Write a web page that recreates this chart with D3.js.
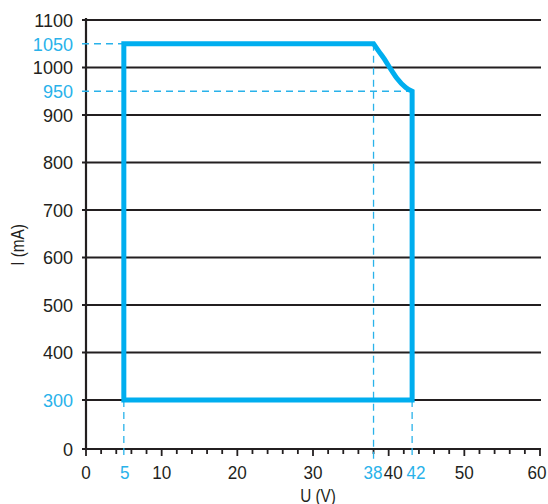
<!DOCTYPE html>
<html>
<head>
<meta charset="utf-8">
<script src="https://cdn.jsdelivr.net/npm/d3@7"></script>
<style>
  html, body { margin: 0; padding: 0; background: #fff; }
  svg { display: block; }
  text { font-family: "Liberation Sans", Arial, sans-serif; }
</style>
</head>
<body>
<svg id="chart" width="548" height="504"></svg>
<script>
// ---- data ----
// operating window: straight part of the outline, U (V), I (mA)
const edgeU = [43.1, 43.1, 5, 5, 38];
const edgeI = [950, 300, 300, 1050, 1050];
// constant-power curve from (38 V, 1050 mA) down to the right edge
const curveU = [38, 38.7, 39.42, 40.13, 41.06, 42.25, 43.1];
const curveI = [1050, 1034, 1018, 1000, 978, 958, 950];

// y axis ticks (mA)
const yGridValues = [300, 400, 500, 600, 700, 800, 900, 1000, 1100];
const yLabelValues = [0, 300, 400, 500, 600, 700, 800, 900, 950, 1000, 1050, 1100];
const yLabelTexts  = ["0", "300", "400", "500", "600", "700", "800", "900", "950", "1000", "1050", "1100"];
const yHighlight   = [false, true, false, false, false, false, false, false, true, false, true, false];

// x axis ticks (V)
const xMinorTicks = d3.range(0, 61, 2);
const xMajorTicks = [0, 10, 20, 30, 40, 50, 60];
const xLabelValues = [0, 5, 10, 20, 30, 38, 40, 43.1, 50, 60];
const xLabelTexts  = ["0", "5", "10", "20", "30", "38", "40", "42", "50", "60"];
const xLabelShift  = [0, 1, 0, 0, 0, -0.5, 4.5, 4, 0, -3];
const xHighlight   = [false, true, false, false, false, true, false, true, false, false];

// reference (dashed) lines
const hRefI   = [1050, 950];
const hRefToU = [5, 43.1];
const vRefU    = [5, 38, 43.1];
const vRefFromI = [300, 1050, 300];

// ---- layout ----
const svg = d3.select("#chart");
const x = d3.scaleLinear().domain([0, 60]).range([86, 540]);
// axis is compressed between 0 and 300 mA
const y = d3.scaleLinear().domain([0, 300, 1100]).range([449, 400, 20]);

const dark = "#231f20";
const blue = "#00aeef";
const lightBlue = "#29b2ea";

// gridlines
svg.append("g").selectAll("line").data(yGridValues).join("line")
  .attr("x1", x(0) - 4).attr("x2", x(60) + 1)
  .attr("y1", d => y(d)).attr("y2", d => y(d))
  .attr("stroke", dark).attr("stroke-width", 1.8);

// axes
svg.append("line").attr("x1", x(0)).attr("x2", x(0)).attr("y1", y(0) + 1).attr("y2", y(1100) - 2)
  .attr("stroke", dark).attr("stroke-width", 2.2);
svg.append("line").attr("x1", x(0) - 4).attr("x2", x(60) + 1).attr("y1", y(0)).attr("y2", y(0))
  .attr("stroke", dark).attr("stroke-width", 2.2);

// x ticks
svg.append("g").selectAll("line").data(xMinorTicks).join("line")
  .attr("x1", d => x(d)).attr("x2", d => x(d))
  .attr("y1", y(0)).attr("y2", d => y(0) + (xMajorTicks.includes(d) ? 7 : 5))
  .attr("stroke", dark).attr("stroke-width", 1.8);

// dashed reference lines
const refG = svg.append("g").attr("stroke", lightBlue).attr("stroke-width", 1.3)
  .attr("stroke-dasharray", "7,5").attr("fill", "none");
hRefI.forEach((v, i) => {
  refG.append("line").attr("x1", x(0) - 4).attr("x2", x(hRefToU[i]))
    .attr("y1", y(v)).attr("y2", y(v));
});
vRefU.forEach((u, i) => {
  refG.append("line").attr("x1", x(u)).attr("x2", x(u))
    .attr("y1", y(vRefFromI[i])).attr("y2", y(0) + 10);
});

// outline: straight edges + smooth curve
const edgePts = edgeU.map((u, i) => [u, edgeI[i]]);
const curvePts = curveU.map((u, i) => [u, curveI[i]]);
const straight = d3.line().x(d => x(d[0])).y(d => y(d[1]))(edgePts);
const curved = d3.line().curve(d3.curveMonotoneX).x(d => x(d[0])).y(d => y(d[1]))(curvePts)
  .replace(/^M[^LC]*/, "");
svg.append("path")
  .attr("d", straight + curved + "Z")
  .attr("fill", "none").attr("stroke", blue).attr("stroke-width", 5)
  .attr("stroke-linejoin", "miter");

// y labels
svg.append("g").selectAll("text").data(yLabelValues).join("text")
  .attr("transform", d => `translate(73,${y(d)}) scale(0.95,1)`)
  .attr("dy", "0.36em")
  .attr("text-anchor", "end").attr("font-size", 19)
  .attr("fill", (d, i) => yHighlight[i] ? lightBlue : dark)
  .text((d, i) => yLabelTexts[i]);

// x labels
svg.append("g").selectAll("text").data(xLabelValues).join("text")
  .attr("transform", (d, i) => `translate(${x(d) + xLabelShift[i]},479) scale(0.9,1)`)
  .attr("text-anchor", "middle").attr("font-size", 19)
  .attr("fill", (d, i) => xHighlight[i] ? lightBlue : dark)
  .text((d, i) => xLabelTexts[i]);

// axis titles
svg.append("text").attr("transform", "translate(24,245) rotate(-90) scale(0.85,1)")
  .attr("text-anchor", "middle").attr("font-size", 18).attr("fill", dark).text("I (mA)");
svg.append("text").attr("transform", "translate(318,502) scale(0.85,1)")
  .attr("text-anchor", "middle").attr("font-size", 18).attr("fill", dark).text("U (V)");
</script>
</body>
</html>
